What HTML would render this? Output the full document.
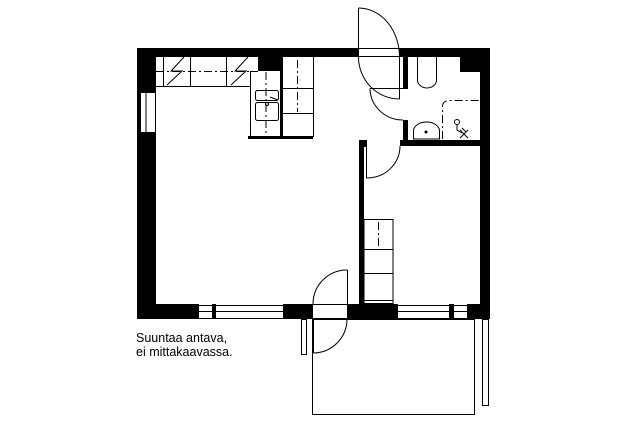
<!DOCTYPE html>
<html><head><style>
html,body{margin:0;padding:0;background:#fff;}
svg{display:block}
text{font-family:"Liberation Sans",sans-serif;font-size:12.5px;fill:#000}
</style></head><body>
<svg width="640" height="427" viewBox="0 0 640 427" xmlns="http://www.w3.org/2000/svg">
<g fill="#000">
<rect x="137" y="48" width="221" height="9"/>
<rect x="399" y="48" width="91" height="9"/>
<rect x="137" y="48" width="19" height="271"/>
<rect x="480" y="48" width="10" height="271"/>
<rect x="460" y="57" width="20" height="15"/>
<rect x="137" y="304" width="62" height="15"/>
<rect x="212" y="304" width="4" height="15"/>
<rect x="283" y="304" width="30" height="15"/>
<rect x="347" y="304" width="51" height="15"/>
<rect x="449" y="304" width="5" height="15"/>
<rect x="467" y="304" width="23" height="15"/>
<rect x="403" y="57" width="5" height="31"/>
<rect x="403" y="120" width="5" height="26"/>
<rect x="400" y="140" width="80" height="6"/>
<rect x="359" y="140" width="8" height="7"/>
<rect x="359" y="140" width="5" height="179"/>
<rect x="258" y="57" width="22" height="14"/>
<rect x="280" y="57" width="3" height="82"/>
<rect x="248" y="136" width="65" height="3"/>
</g>
<g fill="none" stroke="#000" stroke-width="1">
<rect x="140.5" y="92.5" width="15" height="40" fill="#fff"/>
<line x1="146" y1="92" x2="146" y2="132"/>
<line x1="358" y1="48.5" x2="399" y2="48.5"/>
<line x1="358" y1="56.5" x2="399" y2="56.5"/>
<line x1="199" y1="305.5" x2="283" y2="305.5"/><line x1="199" y1="311.5" x2="283" y2="311.5"/><line x1="199" y1="318.5" x2="283" y2="318.5"/>
<line x1="398" y1="305.5" x2="467" y2="305.5"/><line x1="398" y1="311.5" x2="467" y2="311.5"/><line x1="398" y1="318.5" x2="467" y2="318.5"/>
<line x1="313" y1="304.5" x2="347" y2="304.5"/><line x1="313" y1="318.5" x2="347" y2="318.5"/>
<rect x="312.5" y="319.5" width="162" height="95"/>
<rect x="301.5" y="319.5" width="5" height="35"/>
<rect x="482.5" y="319.5" width="6" height="86"/>
<line x1="347.5" y1="270" x2="347.5" y2="304"/>
<path d="M347.5,270 A34,34 0 0 0 313,304"/>
<line x1="313.5" y1="319" x2="313.5" y2="353"/>
<path d="M313.5,353 A34,34 0 0 0 347,319"/>
<line x1="358.5" y1="8" x2="358.5" y2="57"/>
<path d="M358.5,8 A41,49 0 0 1 399.5,57"/>
<line x1="399.5" y1="57" x2="399.5" y2="99"/>
<path d="M358.5,57 A41,42 0 0 0 399.5,99"/>
<line x1="370" y1="88.5" x2="408" y2="88.5"/>
<path d="M370,88.5 A33,32 0 0 0 403,120"/>
<line x1="366.5" y1="146" x2="366.5" y2="178"/>
<path d="M366.5,178 A33,32 0 0 0 400,146"/>
<line x1="156" y1="86.5" x2="250" y2="86.5"/>
<line x1="163.5" y1="57" x2="163.5" y2="86"/>
<line x1="190.5" y1="57" x2="190.5" y2="86"/>
<line x1="226.5" y1="57" x2="226.5" y2="86"/>
<line x1="250.5" y1="71" x2="250.5" y2="137"/>
<line x1="250" y1="71.5" x2="258" y2="71.5"/>
<path d="M167,85 L182,71 L171,71 L184,57 M231,85 L246,71 L235,71 L248,57"/>
<line x1="156" y1="71.5" x2="258" y2="71.5" stroke-dasharray="8,3,2,3"/>
<line x1="266" y1="72" x2="266" y2="136" stroke-dasharray="8,3,2,3"/>
<rect x="255.5" y="90.5" width="23" height="10" rx="2"/>
<rect x="255.5" y="102.5" width="23" height="18" rx="2"/>
<circle cx="267" cy="104" r="1.5"/>
<line x1="270" y1="97" x2="278" y2="100"/>
<line x1="313.5" y1="57" x2="313.5" y2="137"/>
<line x1="283" y1="88.5" x2="313" y2="88.5"/>
<line x1="283" y1="113.5" x2="313" y2="113.5"/>
<line x1="297.5" y1="60" x2="297.5" y2="112" stroke-dasharray="8,3,2,3"/>
<path d="M417.5,57 V80 A9.5,8 0 0 0 436.5,80 V57"/>
<path d="M413.5,139 V131 A13,9 0 0 1 439.5,131 V139 Z"/>
<circle cx="426" cy="132" r="1" fill="#000"/>
<path d="M442.5,139 V106 A6,6 0 0 1 448.5,100.5 H480" stroke-dasharray="8,3,2,3"/>
<circle cx="457" cy="122" r="2.5"/>
<path d="M457,124.5 V130 L462,133 M460,130 L468,138 M468,130 L460,138 M462,128 L466,132"/>
<rect x="364" y="219.5" width="29" height="84"/>
<line x1="364" y1="249.5" x2="393" y2="249.5"/>
<line x1="364" y1="273.5" x2="393" y2="273.5"/>
<line x1="364" y1="300.5" x2="393" y2="300.5"/>
<line x1="378.5" y1="222" x2="378.5" y2="248" stroke-dasharray="8,3,2,3"/>
</g>
<text x="136" y="342">Suuntaa antava,</text>
<text x="136" y="356">ei mittakaavassa.</text>
</svg>
</body></html>
